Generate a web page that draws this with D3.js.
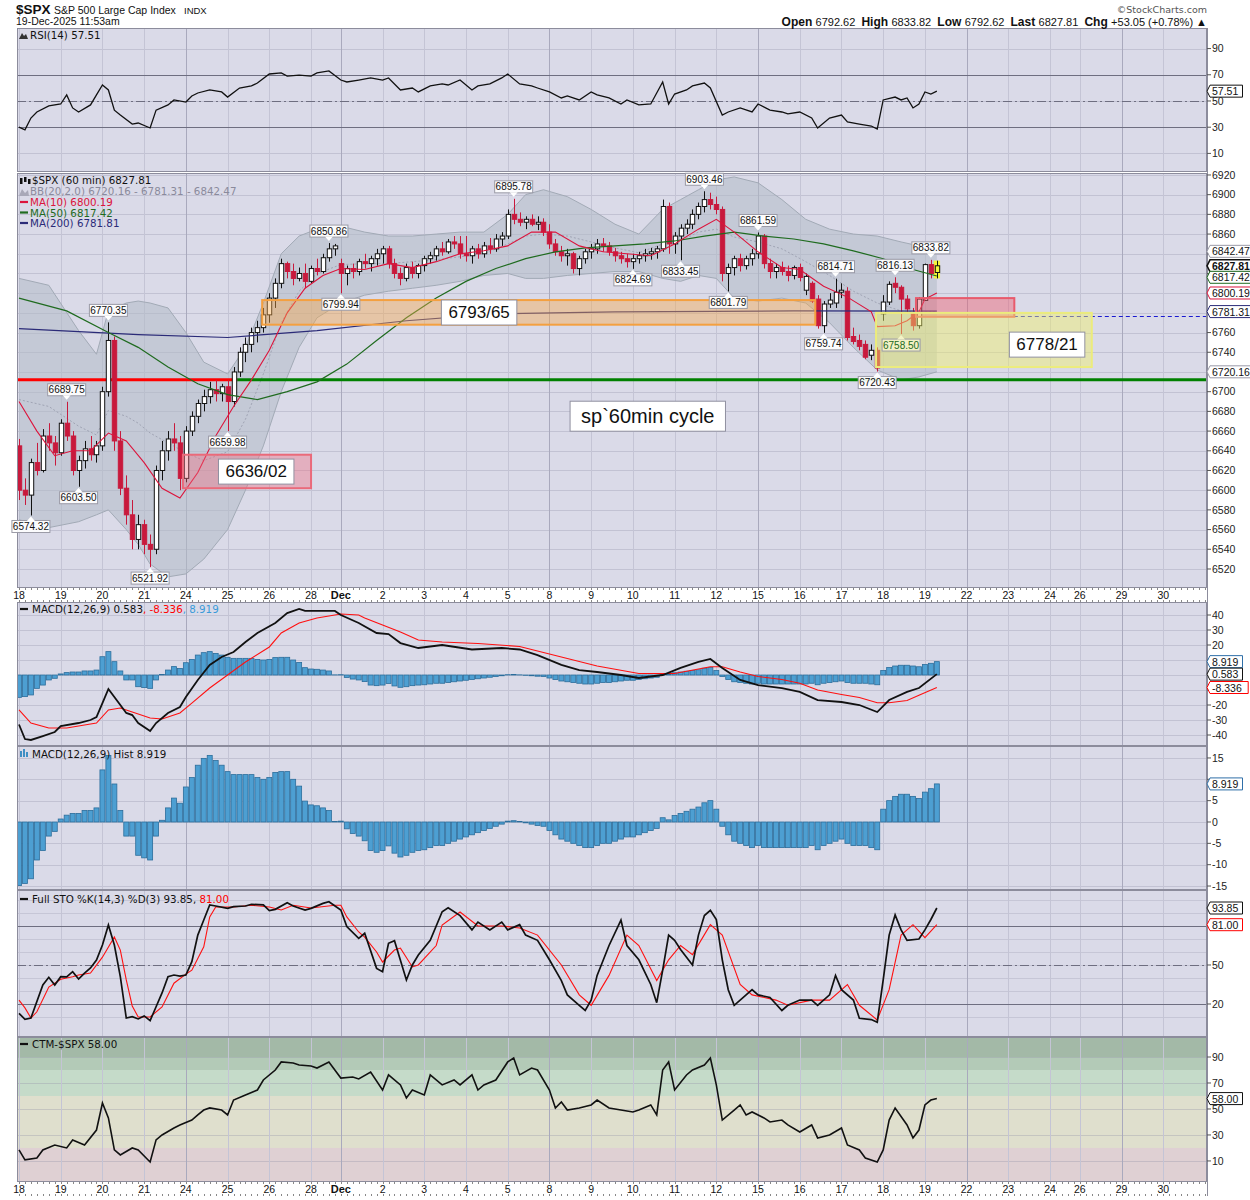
<!DOCTYPE html>
<html>
<head>
<meta charset="utf-8">
<script src="https://cdn.jsdelivr.net/npm/d3@7/dist/d3.min.js"></script>
<style>
html,body{margin:0;padding:0;background:#ffffff;}
text{white-space:pre;}
</style>
</head>
<body>
<svg id="chart" width="1250" height="1200" xmlns="http://www.w3.org/2000/svg"></svg>
<script>
// ---------------- DATA ----------------
const dayLabels = ["18","19","20","21","24","25","26","28","Dec","2","3","4","5","8","9","10","11","12","15","16","17","18","19","22","23","24","26","29","30"];
const dayStartBars = [0,7,14,21,28,35,42,49,54,61,68,75,82,89,96,103,110,117,124,131,138,145,152,159,166,173,178,185,192];
const mondayBars = [28,54,89,124,159,185];

const open = [6645,6600,6595,6628,6620,6655,6648, 6638,6668,6655,6620,6630,6642,6636, 6645,6700,6752,6650,6602,6575,6550, 6565,6545,6540,6620,6640,6652,6648, 6612,6660,6675,6688,6695,6702,6698, 6705,6690,6720,6740,6748,6760,6765, 6778,6795,6810,6830,6822,6815,6820, 6812,6825,6822,6836,6845, 6830,6820,6825,6822,6832,6830,6835, 6840,6845,6830,6820,6815,6826,6820, 6828,6835,6838,6845,6842,6852,6850, 6840,6838,6845,6840,6848,6845,6855, 6858,6880,6875,6872,6875,6870,6872, 6862,6850,6842,6838,6840,6825,6835, 6842,6845,6850,6848,6842,6838,6835, 6832,6835,6838,6840,6842,6845,6888, 6850,6858,6866,6870,6880,6888,6895, 6890,6885,6820,6826,6835,6828,6835, 6840,6858,6830,6822,6826,6822,6818, 6826,6803,6810,6794,6767,6789,6790, 6801,6802,6756,6752,6748,6737,6742, 6779,6791,6810,6806,6794,6779,6767, 6792.62,6829,6821];
const high = [6652,6612,6632,6648,6662,6668,6655, 6672,6689.75,6660,6635,6650,6655,6650, 6705,6770.35,6756,6660,6615,6590,6575, 6570,6555,6625,6650,6660,6668,6655, 6665,6680,6692,6702,6710,6712,6708, 6712,6725,6745,6755,6765,6772,6785, 6800,6815,6835,6832,6830,6826,6830, 6828,6835,6840,6850.86,6850, 6835,6828,6830,6835,6840,6838,6845, 6848,6848,6835,6826,6830,6832,6830, 6838,6842,6848,6852,6855,6858,6858, 6858,6848,6850,6852,6856,6860,6862, 6885,6895.78,6882,6878,6880,6878,6876, 6870,6855,6848,6845,6842,6838,6845, 6850,6855,6856,6852,6846,6842,6840, 6840,6842,6845,6846,6848,6895,6892, 6862,6870,6875,6885,6892,6903.46,6902, 6898,6888,6830,6838,6840,6838,6845, 6861.59,6860,6835,6830,6832,6828,6828, 6830,6820,6812,6798,6792,6800,6814.71, 6810,6806,6765,6758,6752,6748,6745, 6798,6812,6816.13,6808,6798,6785,6796, 6830,6833.82,6833];
const low = [6590,6585,6574.32,6615,6618,6640,6625, 6635,6650,6615,6603.5,6622,6630,6628, 6640,6695,6640,6595,6565,6540,6540, 6535,6521.92,6535,6610,6630,6640,6600, 6608,6655,6668,6680,6688,6690,6690, 6659.98,6685,6715,6730,6740,6750,6760, 6770,6785,6805,6815,6808,6812,6805, 6810,6818,6820,6832,6838, 6799.94,6808,6815,6818,6825,6822,6828, 6830,6825,6815,6808,6812,6815,6815, 6822,6830,6833,6838,6840,6845,6835, 6832,6830,6835,6836,6840,6842,6848, 6855,6870,6868,6865,6868,6864,6858, 6845,6838,6832,6828,6820,6818,6830, 6835,6840,6842,6838,6832,6830,6826, 6824.69,6830,6832,6834,6835,6842,6840, 6840,6833.45,6860,6865,6875,6882,6885, 6880,6812,6801.79,6818,6822,6824,6828, 6835,6825,6815,6815,6818,6812,6814, 6812,6798,6790,6764,6759.74,6785,6785, 6795,6752,6748,6742,6733,6732,6720.43, 6772,6788,6800,6758.5,6780,6762,6764, 6792.62,6815,6815];
const close = [6600,6595,6628,6620,6655,6648,6638, 6668,6655,6620,6630,6642,6636,6645, 6700,6752,6650,6602,6575,6550,6565, 6545,6540,6620,6640,6652,6648,6612, 6660,6675,6688,6695,6702,6698,6705, 6690,6720,6740,6748,6760,6765,6778, 6795,6810,6830,6822,6815,6820,6812, 6825,6822,6836,6845,6848, 6820,6825,6822,6832,6830,6835,6840, 6845,6830,6820,6815,6826,6820,6828, 6835,6838,6845,6842,6852,6850,6840, 6838,6845,6840,6848,6845,6855,6858, 6880,6875,6872,6875,6870,6872,6862, 6850,6842,6838,6840,6825,6835,6842, 6845,6850,6848,6842,6838,6835,6832, 6835,6838,6840,6842,6845,6888,6850, 6858,6866,6870,6880,6888,6895,6890, 6885,6820,6826,6835,6828,6835,6840, 6858,6830,6822,6826,6822,6818,6826, 6816,6817,6792,6767,6789,6793,6801, 6803,6755,6751,6746,6735,6742,6724, 6791,6809,6806,6794,6784,6767,6794, 6829,6820,6827.81];

const bbBars  = [0,5,10,13,15,18,20,22,25,28,31,35,38,41,44,47,50,54,58,62,66,70,74,78,82,85,88,92,96,100,104,108,111,114,117,120,124,128,132,136,140,144,148,151,154];
const bbUpper = [6815,6808,6762,6738,6782,6790,6792,6790,6785,6760,6730,6718,6745,6790,6840,6858,6865,6868,6862,6858,6858,6860,6862,6862,6880,6900,6905,6898,6885,6870,6860,6885,6895,6905,6915,6918,6912,6895,6875,6865,6860,6858,6852,6848,6842.47];
const bbMid   = [6692,6685,6665,6656,6681,6675,6668,6658,6648,6638,6630,6639,6672,6718,6770,6802,6820,6829,6830,6830,6832,6834,6837,6840,6850,6858,6860,6858,6852,6846,6841,6850,6853,6862,6865,6857,6852,6845,6832,6818,6802,6790,6782,6781,6781.31];
const bbLower = [6570,6562,6568,6575,6580,6560,6545,6525,6512,6515,6530,6560,6600,6645,6700,6745,6775,6790,6798,6802,6805,6808,6812,6818,6820,6815,6815,6818,6820,6822,6822,6815,6812,6818,6815,6795,6792,6795,6790,6770,6745,6722,6712,6715,6720.16];

const ma10Bars = [0,3,6,9,12,15,18,21,24,27,30,33,36,39,42,45,48,51,54,58,62,66,70,74,78,82,86,90,94,98,102,106,110,114,117,120,124,128,131,135,139,143,144,147,149,151,152,154];
const ma10Vals = [6690,6660,6635,6640,6640,6658,6650,6628,6602,6592,6618,6655,6685,6712,6742,6780,6805,6818,6825,6824,6830,6826,6832,6840,6843,6848,6862,6862,6848,6842,6840,6838,6850,6865,6875,6862,6842,6826,6824,6807,6796,6781,6766,6767,6772,6781,6794,6800.19];
const ma50Bars = [0,8,15,20,25,30,35,40,45,50,55,60,65,70,75,80,85,90,95,100,105,110,115,120,125,130,135,140,145,150,154];
const ma50Vals = [6795,6782,6760,6745,6725,6708,6697,6692,6700,6710,6728,6752,6775,6795,6812,6825,6835,6842,6846,6848,6850,6853,6858,6862,6858,6855,6850,6843,6835,6824,6817.42];
const ma200Bars = [0,20,35,50,65,80,100,130,154];
const ma200Vals = [6764,6758,6755,6762,6772,6779,6781,6782,6781.81];

const rsiBars = [0,1,2,3,5,7,8,9,10,12,13,14,15,16,17,19,20,22,23,25,26,28,29,30,32,34,35,37,39,40,42,44,45,47,49,50,52,54,55,57,59,61,62,64,66,67,69,71,72,74,76,77,79,81,82,84,86,87,89,91,92,94,96,97,99,101,102,104,106,108,109,110,112,113,115,116,118,119,121,123,124,126,128,129,131,133,134,136,138,139,141,143,144,145,147,148,149,150,151,152,153,154];
const rsiVals = [30,28,37,41.6,46.2,47.7,54.6,44.7,41.6,47,54.6,62.2,58.4,43,39.3,32.4,33.2,29.4,43,47,50.8,49.2,53.8,56.1,58.4,56.9,53,59.9,61.5,63.7,70.6,71.4,69,69.8,69,71.4,72.9,66,64.5,66,67.6,66,67.6,58.4,59.9,56.9,61.5,63,62.2,66,58.4,61.5,63,67.6,70.6,63,61.5,59.9,56.9,52.3,53.8,50.8,56.9,54.6,52.3,47.7,50.8,47,47.7,64.5,47.7,55.3,58.4,61.5,63.7,59.9,39.3,41.6,44.7,41.6,47.7,43.1,41.6,40.1,41.6,37,29.4,37,39.3,34,32.4,30.9,28.6,50.8,53,50.8,52.3,44.7,47.7,56.9,55.3,57.51];

const macdBars = [0,1,2,4,6,7,10,12,13,14,15,16,18,19,20,22,23,25,27,28,30,32,34,36,38,40,43,45,47,48,50,53,54,57,60,62,64,67,71,76,81,84,87,91,94,97,101,104,108,111,114,116,118,121,124,128,131,134,138,141,144,146,149,151,154];
const macdVals = [-33,-42.7,-43.3,-40.7,-38,-34,-32,-30,-28,-18.7,-9.3,-14.7,-25.3,-26.7,-32,-37.3,-32,-25.3,-21.3,-14.7,-3.3,6.7,12,15.3,22,28,34.7,41.3,44,42.7,42.7,42.7,40,34.7,28,27.3,21.3,18,20,17,18,17,13.3,6.7,3.3,2,0,-2,0,4.7,8.7,10.7,4.7,-3.3,-6.7,-8.7,-11.3,-16.7,-18,-20,-24.7,-16.7,-11.3,-8.7,0.583];
const sigBars = [0,2,5,8,11,13,15,17,19,22,24,27,29,32,35,38,42,44,47,50,53,54,57,58,61,64,67,71,77,84,91,97,104,110,116,118,121,124,128,131,134,138,141,144,146,149,151,154];
const sigVals = [-23.3,-32,-35.3,-35.3,-33.3,-32,-23.3,-22,-24.7,-28.7,-29.3,-25.3,-18.7,-8.7,0,8.7,18.7,28,34.7,38,40,40.7,40,38,33.3,28.7,23.3,22,21,19,12,6,1,1,5.5,5.5,2,-1,-3,-5.5,-10,-13,-15,-18.5,-18.5,-17,-13.5,-8.336];
const histVals = [-14.9,-14.4,-13.3,-8.9,-6.7,-3.3,-2.2,0.7,1.6,2, 2,2.7,2.7,3.3,12.2,15.6,8.9,2.7,-3.3,-3.3, -7.8,-8.4,-8.9,-3.3,0.4,3.3,5.6,4.4,8.2,10.4, 13.3,14.9,15.6,14.4,13.3,11.8,11.1,11.1,11.1,11.1, 10.4,10,10.4,11.6,11.8,11.8,10,8.4,4.9,4, 3.8,3.3,2.7,0.1,0.2,-1.6,-2.7,-3.3,-4.4,-6.7, -7.1,-6.7,-5.6,-7.3,-8.2,-7.8,-7.1,-6.7,-6.5,-6, -5.5,-5.5,-5,-4.5,-4,-3.5,-3,-2.5,-2,-1.5, -1,-0.5,0.2,0.3,0.1,-0.2,-0.5,-0.8,-1,-2, -3,-4,-4.5,-5,-5.5,-6,-6,-5.5,-5,-5, -4.5,-4,-3.5,-3.5,-3,-2.5,-2,-1.5,1,0.5, 1.5,2,2.5,3,3.5,4.5,5,3,-1,-3, -4.5,-5,-5.5,-6,-5.5,-6,-6,-6,-6,-6, -6,-6,-6,-5.5,-6.5,-5.5,-5,-4.5,-4,-5, -5.5,-5.5,-5.5,-6,-6.5,3,5,6,6.5,6.5, 6,5.5,7,7.8,8.919];

const stoKBars = [0,1,2,4,5,6,7,8,9,10,11,12,13,14,15,16,17,18,19,20,21,22,23,24,25,26,27,28,29,30,31,32,33,35,36,38,39,41,42,43,45,46,48,49,51,52,54,55,57,58,60,61,62,63,65,66,67,69,71,72,74,76,77,79,81,82,84,85,87,89,91,92,94,95,96,97,99,101,102,104,106,107,108,109,110,111,113,114,115,116,117,118,119,120,122,123,124,126,128,129,131,133,134,136,137,138,140,141,143,144,145,146,147,148,149,151,152,153,154];
const stoKVals = [12.8,8.2,9.2,34.6,40.5,34.6,41,40.8,44.9,39.2,43.8,47.7,53.8,65.4,80.8,65.4,41,9.2,10.3,8.5,10.8,7.2,17.9,28.5,41,42.3,41.5,42.3,52.6,73,84.6,96.2,95.4,93.6,94.9,95.4,96.7,96.2,91.8,92.8,97.9,95.4,92.3,93.6,97.4,98.7,92.3,79.5,70.5,74.4,47.4,44.9,66.7,68.7,38.5,50,57.7,69,91,94,88,77,83,77,83,77,81,73,69,54,38,27,19,15,23,42,65,84.6,65,54,35,21,46,73,69,62,50,73,88,92,85,54,31,19,27,31,27,25,15,19,23,23,19,27,42,31,23,9,8,6,38.5,73,88.5,77,69,70,77,85,93.85];
const stoDBars = [0,1,2,3,5,7,9,10,12,14,16,17,18,19,20,22,24,26,28,29,31,32,33,36,39,42,44,46,49,53,54,55,57,58,60,61,63,64,66,67,70,71,74,77,81,84,87,91,94,96,99,102,104,107,109,111,113,116,118,121,123,127,129,133,136,139,141,144,146,148,150,152,154];
const stoDVals = [23,17,9.2,14,33,39,41,42.3,43.8,56,71.5,61.5,38.5,18.5,10,10,17.7,36,43,46,64,87,94.6,94.6,96,94.6,92.3,96,93.8,96,96,87,75.4,71.5,60,52.3,61.5,63,48.5,50,65,80.8,90.8,80,80,78.5,73,50,27,19,42,73,65,38,54,65,58,81,73,35,27,23,19,23,23,35,19,7.7,31,73,81,71,81];

const ctmBars = [0,1,3,4,6,8,9,11,13,14,15,16,17,19,20,22,23,24,26,27,29,30,31,32,34,35,36,38,40,41,43,44,46,47,49,50,52,54,56,57,59,61,62,64,65,66,68,69,71,73,74,76,77,78,80,82,83,84,86,87,89,90,91,92,94,96,97,99,101,103,104,106,107,108,109,110,112,113,115,116,117,118,120,121,122,123,125,126,128,129,131,133,134,136,138,139,141,142,144,145,146,147,149,150,151,152,153,154];
const ctmVals = [18.5,10.8,12.3,18.5,22.3,20,26.2,22.3,33.8,54.6,43.1,18.5,14.6,20,18.5,9.2,26.2,30,35.4,37.7,41.5,45.4,49.2,50.8,49.2,45.4,56.9,60.8,64.6,72.3,80,86.2,85.4,83.8,83.1,81.5,86.2,73.8,74.6,73.1,78.5,64.6,76.2,68.5,58.5,64.6,60.8,76.2,68.5,72.3,68.5,76.2,64.6,68.5,72.3,86.2,89.2,76.2,81.5,80,64.6,50.8,55.4,49.2,50.8,53.1,56.9,50.8,49.2,47.7,49.2,53.1,45.4,80,86.2,64.6,76.2,80,83.8,89.2,68.5,41.5,49.2,53.1,45.4,47.7,43.1,40,41.5,37.7,32.3,37.7,27.7,30,35.4,22.3,18.5,12.3,9.2,18.5,41.5,50.8,37.7,27.7,33.8,53.1,56.9,58];
const ctmZoneLo = [90,80,60,20,-10];
const ctmZoneHi = [110,90,80,60,20];

// tick labels
const rsiTicks = [10,30,50,70,90];
const priceTicks = [6520,6540,6560,6580,6600,6620,6640,6660,6680,6700,6720,6740,6760,6780,6800,6820,6840,6860,6880,6900,6920];
const macdTicks = [-40,-30,-20,-10,0,10,20,30,40];
const histTicks = [-15,-10,-5,0,5,10,15];
const stoGrid = [10,20,30,40,50,60,70,80,90,100];
const stoTicks = [20,50,80];
const ctmTicks = [10,30,50,70,90];

// labelled highs / lows
const peakBars  = [2,8,10,15,22,35,52,54,83,103,111,115,119,124,135,137,144,147,148,153];
const peakVals  = [6574.32,6689.75,6603.50,6770.35,6521.92,6659.98,6850.86,6799.94,6895.78,6824.69,6833.45,6903.46,6801.79,6861.59,6759.74,6814.71,6720.43,6816.13,6758.50,6833.82];
const peakSide  = ["below","above","below","above","below","below","above","below","above","below","below","above","below","above","below","above","below","above","below","above"];

// annotations (price zones)
const zoneNames = ["orange","redL","redR","yellow"];
const zoneBar0 = [40.8,27.5,150.5,143.8];
const zoneBar1 = [133.6,49,167,180];
const zoneHi = [6793,6636,6795,6780];
const zoneLo = [6768,6602,6776,6725];
const noteTexts = ["6793/65","6636/02","6778/21","sp`60min cycle"];
const noteBars = [77.2,39.8,172.5,105.5];
const notePrices = [6781,6619.5,6748.4,6675.3];
const levelRed = 6712, levelGreen = 6712, levelDash = 6777;

const quote = {open:"6792.62", high:"6833.82", low:"6792.62", last:"6827.81", chg:"+53.05 (+0.78%)"};

// ---------------- DRAW ----------------
const svg = d3.select("#chart");
const FONT = "'DejaVu Sans', Verdana, sans-serif";
const AX = "'Liberation Sans', Arial, sans-serif";
const L = 17, R = 1207;
const BG = "#dadae8";
const X = d3.scaleLinear().domain([0,192]).range([19, 19 + 192*5.96]);

svg.append("rect").attr("width",1250).attr("height",1200).attr("fill","#ffffff");

const panels = [
  {id:"rsi",   top:28,   bottom:172,  dom:[-4.2,105.7]},
  {id:"price", top:173,  bottom:588,  dom:[6500.7,6922.0]},
  {id:"macd",  top:602,  bottom:746,  dom:[-47.33,48.67]},
  {id:"hist",  top:746,  bottom:890,  dom:[-15.93,17.8]},
  {id:"sto",   top:890,  bottom:1037, dom:[-5.4,107.7]},
  {id:"ctm",   top:1037, bottom:1182, dom:[-6.2,105.4]}
];
const P = {};
const defs = svg.append("defs");
panels.forEach(p => {
  p.y = d3.scaleLinear().domain(p.dom).range([p.bottom, p.top]);
  P[p.id] = p;
  defs.append("clipPath").attr("id","clip-"+p.id).append("rect")
    .attr("x",L).attr("y",p.top).attr("width",R-L).attr("height",p.bottom-p.top);
  svg.append("rect").attr("x",L).attr("y",p.top).attr("width",R-L).attr("height",p.bottom-p.top).attr("fill",BG);
  p.g = svg.append("g").attr("clip-path","url(#clip-"+p.id+")");
});

// CTM zones
const zoneColors = ["#a3b9a7","#b3cab7","#c5dbc9","#dfdfcd","#dfd0d3"];
ctmZoneLo.forEach((lo,i) => {
  const y = P.ctm.y;
  P.ctm.g.append("rect").attr("x",L).attr("width",R-L)
    .attr("y", y(ctmZoneHi[i])).attr("height", y(lo) - y(ctmZoneHi[i])).attr("fill", zoneColors[i]);
});

// horizontal grid
function hgrid(p, vals, color){
  vals.forEach(v => p.g.append("line").attr("x1",L).attr("x2",R)
    .attr("y1",Math.round(p.y(v))+0.5).attr("y2",Math.round(p.y(v))+0.5)
    .attr("stroke",color).attr("stroke-width",1));
}
hgrid(P.rsi, rsiTicks, "#c2c2d3");
hgrid(P.price, priceTicks, "#c2c2d3");
hgrid(P.macd, macdTicks, "#c2c2d3");
hgrid(P.hist, histTicks, "#c2c2d3");
hgrid(P.sto, stoGrid, "#c6c6d6");
hgrid(P.ctm, ctmTicks, "rgba(150,150,170,0.35)");

// vertical grid
panels.forEach(p => {
  dayStartBars.forEach(b => {
    const xx = Math.round(X(b)) + 0.5;
    const mon = mondayBars.includes(b);
    p.g.append("line").attr("x1",xx).attr("x2",xx).attr("y1",p.top).attr("y2",p.bottom)
      .attr("stroke", mon ? "#a9a9bd" : "#c4c4d5").attr("stroke-width",1);
  });
});

// special reference lines
function refLine(p, v, dash){
  const yy = Math.round(p.y(v)) + 0.5;
  p.g.append("line").attr("x1",L).attr("x2",R).attr("y1",yy).attr("y2",yy)
    .attr("stroke","#6e6e80").attr("stroke-width",1)
    .attr("stroke-dasharray", dash ? "9,3,2,3" : null);
}
refLine(P.rsi,70); refLine(P.rsi,30); refLine(P.rsi,50,true);
refLine(P.sto,80); refLine(P.sto,20); refLine(P.sto,50,true);

const line = (y) => d3.line().x(d => X(d[0])).y(d => y(d[1]));

// ---- RSI
P.rsi.g.append("path").datum(d3.zip(rsiBars, rsiVals)).attr("d", line(P.rsi.y))
  .attr("fill","none").attr("stroke","#111").attr("stroke-width",1.3);

// ---- PRICE
const yP = P.price.y;
const gp = P.price.g;
const bbData = d3.zip(bbBars, bbUpper, bbLower, bbMid);
gp.append("path").datum(bbData)
  .attr("d", d3.area().x(d => X(d[0])).y0(d => yP(d[2])).y1(d => yP(d[1])))
  .attr("fill","#b3bcc6").attr("fill-opacity",0.55).attr("stroke","none");
gp.append("path").datum(bbData).attr("d", d3.line().x(d=>X(d[0])).y(d=>yP(d[1])))
  .attr("fill","none").attr("stroke","#a2aab6").attr("stroke-width",1);
gp.append("path").datum(bbData).attr("d", d3.line().x(d=>X(d[0])).y(d=>yP(d[2])))
  .attr("fill","none").attr("stroke","#a2aab6").attr("stroke-width",1);
gp.append("path").datum(bbData).attr("d", d3.line().x(d=>X(d[0])).y(d=>yP(d[3])))
  .attr("fill","none").attr("stroke","#a0a4b4").attr("stroke-width",1).attr("stroke-dasharray","2,2");

// thick level lines
gp.append("line").attr("x1",X(36.6)).attr("x2",R).attr("y1",yP(levelGreen)).attr("y2",yP(levelGreen))
  .attr("stroke","#008000").attr("stroke-width",3);
gp.append("line").attr("x1",L).attr("x2",X(36.6)).attr("y1",yP(levelRed)).attr("y2",yP(levelRed))
  .attr("stroke","#ff0000").attr("stroke-width",3);

// highlight last candle
{
  const i = close.length - 1;
  gp.append("rect").attr("x",X(i)-3.2).attr("width",6.4)
    .attr("y",yP(high[i])).attr("height",yP(low[i])-yP(high[i]))
    .attr("fill","#f5f53a");
}
// candles
close.forEach((c,i) => {
  const o = open[i], up = c >= o;
  const col = up ? "#111111" : "#c8193c";
  const xx = Math.round(X(i)) + 0.5;
  gp.append("line").attr("x1",xx).attr("x2",xx).attr("y1",yP(high[i])).attr("y2",yP(low[i]))
    .attr("stroke",col).attr("stroke-width",1);
  const yt = yP(Math.max(o,c)), yb = yP(Math.min(o,c));
  gp.append("rect").attr("x",xx-2.2).attr("width",4.4)
    .attr("y",yt).attr("height",Math.max(1,yb-yt))
    .attr("fill", up ? (i === close.length-1 ? "#f5f53a" : "#ffffff") : "#c8193c")
    .attr("stroke",col).attr("stroke-width",1);
});

// moving averages
gp.append("path").datum(d3.zip(ma200Bars, ma200Vals)).attr("d", line(yP))
  .attr("fill","none").attr("stroke","#2b2b78").attr("stroke-width",1.2);
gp.append("path").datum(d3.zip(ma50Bars, ma50Vals)).attr("d", line(yP))
  .attr("fill","none").attr("stroke","#1f6b1f").attr("stroke-width",1.2);
gp.append("path").datum(d3.zip(ma10Bars, ma10Vals)).attr("d", line(yP))
  .attr("fill","none").attr("stroke","#dc143c").attr("stroke-width",1.1);

// dashed navy level
gp.append("line").attr("x1",X(154)).attr("x2",R).attr("y1",Math.round(yP(levelDash))+0.5).attr("y2",Math.round(yP(levelDash))+0.5)
  .attr("stroke","#1a1ad0").attr("stroke-width",1).attr("stroke-dasharray","4,3");

// zones
const zFill = ["#f7a94a","#f26a7c","#ee5f72","#f0ef6a"];
const zStroke = ["#f4a040","#ea6a7a","#e85a6c","#ecec7c"];
const zOp = [0.42,0.38,0.45,0.45];
zoneNames.forEach((n,i) => {
  gp.append("rect").attr("x",X(zoneBar0[i])).attr("width",X(zoneBar1[i])-X(zoneBar0[i]))
    .attr("y",yP(zoneHi[i])).attr("height",yP(zoneLo[i])-yP(zoneHi[i]))
    .attr("fill",zFill[i]).attr("fill-opacity",zOp[i])
    .attr("stroke",zStroke[i]).attr("stroke-width",2);
});

// note boxes
noteTexts.forEach((t,k) => {
  const big = k === 3;
  const fs = big ? 20 : 17;
  const cx = X(noteBars[k]), cy = yP(notePrices[k]);
  const tmp = gp.append("text").attr("x",cx).attr("y",cy + fs*0.36).attr("text-anchor","middle")
    .attr("font-family",AX).attr("font-size",fs).attr("fill","#111").text(t);
  const bb = tmp.node().getBBox();
  const padX = big ? 11 : 7, padY = big ? 4 : 3;
  gp.insert("rect", () => tmp.node())
    .attr("x",bb.x-padX).attr("y",bb.y-padY).attr("width",bb.width+2*padX).attr("height",bb.height+2*padY)
    .attr("fill","#ffffff").attr("stroke","#9090a0").attr("stroke-width",1);
});

// ---- MACD
const yM = P.macd.y, gm = P.macd.g;
histVals.forEach((h,i) => {
  const y0 = yM(0), y1 = yM(h);
  gm.append("rect").attr("x",X(i)-2.5).attr("width",5).attr("y",Math.min(y0,y1)).attr("height",Math.abs(y1-y0))
    .attr("fill","#4d9fd2").attr("stroke","#2b6d9b").attr("stroke-width",0.8);
});
gm.append("path").datum(d3.zip(sigBars, sigVals)).attr("d", line(yM))
  .attr("fill","none").attr("stroke","#ff1010").attr("stroke-width",1.1);
gm.append("path").datum(d3.zip(macdBars, macdVals)).attr("d", line(yM))
  .attr("fill","none").attr("stroke","#111").attr("stroke-width",1.8);

// ---- HIST
const yH = P.hist.y, gh = P.hist.g;
histVals.forEach((h,i) => {
  const y0 = yH(0), y1 = yH(h);
  gh.append("rect").attr("x",X(i)-2.5).attr("width",5).attr("y",Math.min(y0,y1)).attr("height",Math.abs(y1-y0))
    .attr("fill","#4d9fd2").attr("stroke","#2b6d9b").attr("stroke-width",0.8);
});

// ---- STO
const yS = P.sto.y, gs = P.sto.g;
gs.append("path").datum(d3.zip(stoDBars, stoDVals)).attr("d", line(yS))
  .attr("fill","none").attr("stroke","#ff1010").attr("stroke-width",1.1);
gs.append("path").datum(d3.zip(stoKBars, stoKVals)).attr("d", line(yS))
  .attr("fill","none").attr("stroke","#111").attr("stroke-width",1.7);

// ---- CTM
P.ctm.g.append("path").datum(d3.zip(ctmBars, ctmVals)).attr("d", line(P.ctm.y))
  .attr("fill","none").attr("stroke","#111").attr("stroke-width",1.6);

// panel borders
panels.forEach(p => {
  svg.append("rect").attr("x",L+0.5).attr("y",p.top+0.5).attr("width",R-L-1).attr("height",p.bottom-p.top-1)
    .attr("fill","none").attr("stroke","#8c8c9c").attr("stroke-width",1);
});

// peak labels (not clipped, may extend past the left edge)
const gl = svg.append("g");
peakBars.forEach((b,k) => {
  const cx = X(b), vy = yP(peakVals[k]);
  const txt = peakVals[k].toFixed(2);
  const w = 38, h = 12;
  const above = peakSide[k] === "above";
  const by = above ? vy - 6 - h : vy + 5;
  const green = (peakVals[k] === 6758.50);
  const bg = green ? "#f4f3c8" : "#ffffff";
  const tri = above ? [[cx-4,by+h-0.5],[cx+4,by+h-0.5],[cx,by+h+4]] : [[cx-4,by+0.5],[cx+4,by+0.5],[cx,by-4]];
  gl.append("rect").attr("x",cx-w/2).attr("y",by).attr("width",w).attr("height",h)
    .attr("fill",bg).attr("fill-opacity",0.92).attr("stroke","#9a9aa6").attr("stroke-width",1);
  gl.append("path").attr("d","M"+tri.map(p=>p.join(",")).join("L")+"Z").attr("fill",bg).attr("stroke","none");
  gl.append("text").attr("x",cx).attr("y",by+9.5).attr("text-anchor","middle")
    .attr("font-family",AX).attr("font-size",10).attr("fill", green ? "#1d6a1d" : "#111").text(txt);
});

// date axes
function dateAxis(y0){
  svg.append("rect").attr("x",L).attr("y",y0).attr("width",R-L).attr("height",14).attr("fill","#ffffff");
  for (let b = 0; b <= 199; b++) {
    const xx = Math.round(X(b)) + 0.5;
    if (xx > R) break;
    svg.append("line").attr("x1",xx).attr("x2",xx).attr("y1",y0).attr("y2",y0+2).attr("stroke","#888").attr("stroke-width",1);
    svg.append("line").attr("x1",xx).attr("x2",xx).attr("y1",y0+12).attr("y2",y0+14).attr("stroke","#888").attr("stroke-width",1);
  }
  dayLabels.forEach((t,k) => {
    svg.append("text").attr("x",X(dayStartBars[k])).attr("y",y0+11).attr("text-anchor","middle")
      .attr("font-family",AX).attr("font-size",t === "Dec" ? 11 : 10.5)
      .attr("font-weight", t === "Dec" ? "bold" : "normal").attr("fill","#111").text(t);
  });
}
dateAxis(588);
dateAxis(1182);

// right axis + value tags
svg.append("line").attr("x1",R+0.5).attr("x2",R+0.5).attr("y1",28).attr("y2",1196).attr("stroke","#8c8c9c");

function resolve(list){
  list.sort((a,b) => a.y - b.y);
  for (let i = 1; i < list.length; i++) if (list[i].y - list[i-1].y < 11.5) list[i].y = list[i-1].y + 11.5;
  return list;
}
const tagSets = {
  rsi: resolve([{y:P.rsi.y(57.51), text:"57.51", color:"#111"}]),
  price: resolve([
    {y:yP(6842.47), text:"6842.47", color:"#9a9aa8"},
    {y:yP(6827.81), text:"6827.81", color:"#111", bold:true},
    {y:yP(6817.42), text:"6817.42", color:"#1f6b1f"},
    {y:yP(6800.19), text:"6800.19", color:"#dc143c"},
    {y:yP(6781.31), text:"6781.31", color:"#2b2b78"},
    {y:yP(6720.16), text:"6720.16", color:"#9a9aa8"}
  ]),
  macd: resolve([
    {y:yM(8.919), text:"8.919", color:"#2f6fa8"},
    {y:yM(0.583), text:"0.583", color:"#111"},
    {y:yM(-8.336), text:"-8.336", color:"#ff0000"}
  ]),
  hist: resolve([{y:yH(8.919), text:"8.919", color:"#2f6fa8"}]),
  sto: resolve([
    {y:yS(93.85), text:"93.85", color:"#111"},
    {y:yS(81.00), text:"81.00", color:"#ff0000"}
  ]),
  ctm: resolve([{y:P.ctm.y(58), text:"58.00", color:"#111"}])
};

function axisLabels(p, vals){
  const tg = tagSets[p.id] || [];
  vals.forEach(v => {
    const yy = p.y(v);
    svg.append("line").attr("x1",R).attr("x2",R+4).attr("y1",yy).attr("y2",yy).attr("stroke","#555");
    if (tg.some(t => Math.abs(t.y - yy) < 8)) return; // hidden behind a value tag
    svg.append("text").attr("x",R+5).attr("y",yy+3.7).attr("font-family",AX).attr("font-size",10.5)
      .attr("fill","#222").text(v);
  });
}
axisLabels(P.rsi, rsiTicks);
axisLabels(P.price, priceTicks);
axisLabels(P.macd, macdTicks);
axisLabels(P.hist, histTicks);
axisLabels(P.sto, stoTicks);
axisLabels(P.ctm, ctmTicks);

function drawTags(list){
  list.forEach(t => {
    const w = t.text.length * 5.7 + 4, h = 12, x0 = R + 3;
    svg.append("path")
      .attr("d", `M${x0-3},${t.y} L${x0},${t.y-h/2} L${x0+w},${t.y-h/2} L${x0+w},${t.y+h/2} L${x0},${t.y+h/2} Z`)
      .attr("fill","#ffffff").attr("stroke",t.color).attr("stroke-width", t.bold ? 1.6 : 1);
    svg.append("text").attr("x",x0+2).attr("y",t.y+4).attr("font-family",AX).attr("font-size",10.5)
      .attr("font-weight", t.bold ? "bold" : "normal").attr("fill","#111").text(t.text);
  });
}
Object.values(tagSets).forEach(drawTags);

// legends
function legendText(x, y, parts){
  const t = svg.append("text").attr("x",x).attr("y",y).attr("font-family",FONT).attr("font-size",10.3);
  parts.forEach(p => t.append("tspan").attr("fill",p[1]).text(p[0]));
}
function legendLine(y, color){
  svg.append("line").attr("x1",20).attr("x2",28).attr("y1",y).attr("y2",y).attr("stroke",color).attr("stroke-width",2.2);
}
// RSI
svg.append("path").attr("d","M19,39 L22,33 L24,36 L26,34 L28,39 Z").attr("fill","#333");
legendText(30, 39, [["RSI(14) 57.51","#111"]]);
// price
svg.append("rect").attr("x",20).attr("y",178).attr("width",2.5).attr("height",6).attr("fill","#111");
svg.append("rect").attr("x",24).attr("y",177).attr("width",2.5).attr("height",5).attr("fill","#111");
svg.append("rect").attr("x",28).attr("y",179).attr("width",2.5).attr("height",5).attr("fill","#111");
legendText(32, 184, [["$SPX (60 min) 6827.81","#111"]]);
svg.append("path").attr("d","M19,196 L22,189 L25,193 L28,190 L29,196 Z").attr("fill","#a8a8b8");
legendText(30, 195, [["BB(20,2.0) 6720.16 - 6781.31 - 6842.47","#8a8a9c"]]);
legendLine(202, "#dc143c"); legendText(30, 206, [["MA(10) 6800.19","#dc143c"]]);
legendLine(212.5, "#1f6b1f"); legendText(30, 216.5, [["MA(50) 6817.42","#1f6b1f"]]);
legendLine(223, "#2b2b78"); legendText(30, 227, [["MA(200) 6781.81","#2b2b78"]]);
// MACD
legendLine(609, "#111");
legendText(32, 613, [["MACD(12,26,9) 0.583","#111"],[", -8.336","#ff0000"],[", 8.919","#3a9ad9"]]);
// hist
svg.append("rect").attr("x",20).attr("y",751).attr("width",2).attr("height",6).attr("fill","#3f8fc4");
svg.append("rect").attr("x",23).attr("y",749).attr("width",2).attr("height",8).attr("fill","#3f8fc4");
svg.append("rect").attr("x",26).attr("y",752).attr("width",2).attr("height",5).attr("fill","#3f8fc4");
legendText(32, 758, [["MACD(12,26,9) Hist 8.919","#111"]]);
// STO
legendLine(899, "#111");
legendText(32, 903, [["Full STO %K(14,3) %D(3) 93.85, ","#111"],["81.00","#ff0000"]]);
// CTM
legendLine(1044, "#111");
legendText(32, 1048, [["CTM-$SPX 58.00","#111"]]);

// header
svg.append("text").attr("x",16).attr("y",14).attr("font-family",AX).attr("font-size",13.5).attr("font-weight","bold").attr("fill","#111").text("$SPX");
svg.append("text").attr("x",54).attr("y",13.5).attr("font-family",AX).attr("font-size",10.5).attr("fill","#111").text("S&P 500 Large Cap Index");
svg.append("text").attr("x",184).attr("y",13.5).attr("font-family",AX).attr("font-size",9.5).attr("fill","#111").text("INDX");
svg.append("text").attr("x",16).attr("y",25).attr("font-family",AX).attr("font-size",10.5).attr("fill","#111").text("19-Dec-2025 11:53am");
svg.append("text").attr("x",R).attr("y",13).attr("text-anchor","end").attr("font-family",FONT).attr("font-size",9.5).attr("fill","#555").text("\u00A9StockCharts.com");
{
  const t = svg.append("text").attr("x",R).attr("y",26).attr("text-anchor","end").attr("font-family",AX).attr("font-size",11).attr("fill","#111");
  const parts = [["Open ",true],[quote.open+"  ",false],["High ",true],[quote.high+"  ",false],["Low ",true],[quote.low+"  ",false],["Last ",true],[quote.last+"  ",false],["Chg ",true],[quote.chg+" ",false],["\u25B2",false]];
  parts.forEach(p => t.append("tspan").attr("font-weight",p[1]?"bold":"normal").attr("font-size",p[1]?12:11).text(p[0]));
}
</script>
</body>
</html>
